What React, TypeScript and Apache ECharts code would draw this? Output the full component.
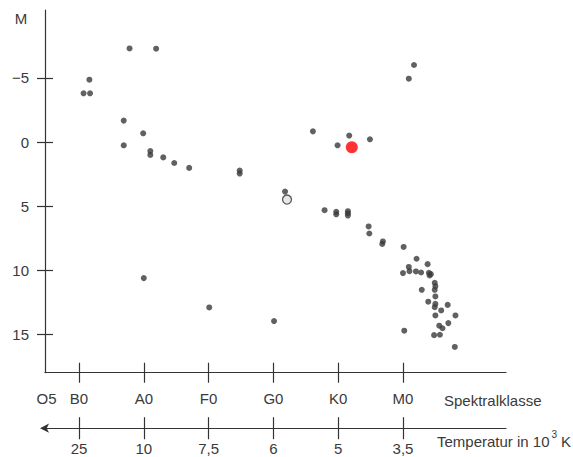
import React, { useEffect, useRef } from 'react';
import * as echarts from 'echarts';

const CLASS_POS = [-0.5, 0, 1, 2, 3, 4, 5];
const CLASS_LABELS = ['O5', 'B0', 'A0', 'F0', 'G0', 'K0', 'M0'];
const TICK_POS = [0, 1, 2, 3, 4, 5];
const TEMP_LABELS = ['25', '10', '7,5', '6', '5', '3,5'];
const M_TICKS = [-5, 0, 5, 10, 15];

// spectral class position (B0 = 0, A0 = 1, ...), absolute magnitude M
const starClass = [
  0.78, 1.19, 0.16, 0.07, 0.17, 0.69, 0.99, 0.69, 1.10, 1.10, 1.30, 1.47, 1.70,
  2.48, 2.48, 3.61, 4.17, 4.49, 3.99, 3.18, 3.79, 3.97, 3.97, 4.15, 4.15, 4.15,
  4.47, 4.48, 4.69, 4.68, 5.01, 5.21, 5.38, 5.09, 5.10, 5.00, 5.20, 5.28, 5.40,
  5.43, 5.41, 5.49, 5.50, 5.49, 5.29, 5.50, 5.39, 5.50, 5.49, 5.59, 5.69, 5.50,
  5.81, 5.56, 5.61, 5.70, 5.02, 5.48, 5.57, 5.80, 1.00, 2.01, 3.01, 5.17, 5.09,
];
const starMag = [
  -7.30, -7.28, -4.86, -3.80, -3.80, -1.67, -0.68, 0.26, 0.71, 1.01, 1.20, 1.64, 2.02,
  2.23, 2.46, -0.83, -0.50, -0.21, 0.26, 3.87, 5.32, 5.45, 5.64, 5.40, 5.56, 5.74,
  6.59, 7.14, 7.76, 7.96, 8.19, 9.11, 9.53, 9.75, 10.08, 10.23, 10.10, 10.18, 10.20,
  10.31, 10.41, 10.98, 11.25, 11.53, 11.53, 12.05, 12.46, 12.63, 12.89, 13.14, 12.71, 13.53,
  13.53, 14.33, 14.53, 14.13, 14.72, 15.07, 15.04, 15.99, 10.62, 12.91, 13.97, -6.01, -4.94,
];
const sunClass = [3.21];
const sunMag = [4.49];
const redClass = [4.21];
const redMag = [0.41];

const FONT = 'Liberation Sans, Arial, Helvetica, sans-serif';
const INK = '#333';
const TEXT = '#3a3a3a';

export default function App() {
  const ref = useRef<HTMLDivElement>(null);
  useEffect(() => {
    if (!ref.current) return;
    const chart = echarts.init(ref.current, null, { renderer: 'svg' });
    const X_MIN = -0.525;
    const X_MAX = 6.59;
    const Y_MIN = -10.3;
    const Y_MAX = 18;
    const lineStyle = { color: INK, width: 1.2 };
    const baseX = {
      type: 'value' as const,
      min: X_MIN,
      max: X_MAX,
      position: 'bottom' as const,
      splitLine: { show: false },
    };
    const baseY = {
      type: 'value' as const,
      min: Y_MIN,
      max: Y_MAX,
      inverse: true,
      position: 'left' as const,
      splitLine: { show: false },
    };
    const classLabel = (v: number) => {
      const i = CLASS_POS.findIndex((p) => Math.abs(p - v) < 1e-6);
      return i >= 0 ? CLASS_LABELS[i] : '';
    };
    const tempLabel = (v: number) => {
      const i = TICK_POS.findIndex((p) => Math.abs(p - v) < 1e-6);
      return i >= 0 ? TEMP_LABELS[i] : '';
    };
    const option: any = {
      animation: false,
      backgroundColor: '#fff',
      textStyle: { fontFamily: FONT },
      grid: { left: 45, right: 67, top: 10, bottom: 84.3, outerBoundsMode: 'none', containLabel: false },
      xAxis: [
        {
          ...baseX,
          axisLine: { show: true, onZero: false, lineStyle },
          axisTick: { show: true, inside: false, length: 10, customValues: TICK_POS, lineStyle },
          axisLabel: {
            show: true,
            customValues: CLASS_POS,
            formatter: classLabel,
            margin: 18,
            fontSize: 15,
            color: TEXT,
            fontFamily: FONT,
          },
        },
        {
          ...baseX,
          axisLine: { show: false, onZero: false },
          axisTick: { show: true, inside: true, length: 10, customValues: TICK_POS, lineStyle },
          axisLabel: { show: false },
        },
        {
          ...baseX,
          offset: 55.5,
          axisLine: {
            show: true,
            onZero: false,
            lineStyle,
            symbol: ['arrow', 'none'],
            symbolSize: [7, 9],
            symbolOffset: [-5, 0],
          },
          axisTick: { show: true, inside: false, length: 11, customValues: TICK_POS, lineStyle },
          axisLabel: {
            show: true,
            customValues: TICK_POS,
            formatter: tempLabel,
            margin: 13,
            fontSize: 15,
            color: TEXT,
            fontFamily: FONT,
          },
        },
        {
          ...baseX,
          offset: 55.5,
          axisLine: { show: false, onZero: false },
          axisTick: { show: true, inside: true, length: 11, customValues: TICK_POS, lineStyle },
          axisLabel: { show: false },
        },
      ],
      yAxis: [
        {
          ...baseY,
          axisLine: { show: true, onZero: false, lineStyle },
          axisTick: { show: true, inside: false, length: 8, customValues: M_TICKS, lineStyle },
          axisLabel: {
            show: true,
            customValues: M_TICKS,
            formatter: (v: number) => (v < 0 ? '\u2212' + Math.abs(v) : String(v)),
            margin: 16,
            fontSize: 15,
            color: TEXT,
            fontFamily: FONT,
          },
        },
        {
          ...baseY,
          axisLine: { show: false, onZero: false },
          axisTick: { show: true, inside: true, length: 8, customValues: M_TICKS, lineStyle },
          axisLabel: { show: false },
        },
      ],
      graphic: [
        {
          type: 'text',
          x: 21,
          y: 18,
          style: { text: 'M', fontSize: 15, fill: TEXT, fontFamily: FONT, align: 'center', verticalAlign: 'middle' },
        },
        {
          type: 'text',
          x: 444,
          y: 400,
          style: { text: 'Spektralklasse', fontSize: 15, fill: TEXT, fontFamily: FONT, align: 'left', verticalAlign: 'middle' },
        },
        {
          type: 'text',
          x: 437,
          y: 441,
          style: { text: 'Temperatur in 10', fontSize: 15, fill: TEXT, fontFamily: FONT, align: 'left', verticalAlign: 'middle' },
        },
        {
          type: 'text',
          x: 551.5,
          y: 434,
          style: { text: '3', fontSize: 10, fill: TEXT, fontFamily: FONT, align: 'left', verticalAlign: 'middle' },
        },
        {
          type: 'text',
          x: 561,
          y: 441,
          style: { text: 'K', fontSize: 15, fill: TEXT, fontFamily: FONT, align: 'left', verticalAlign: 'middle' },
        },
      ],
      series: [
        {
          type: 'scatter',
          xAxisIndex: 0,
          yAxisIndex: 0,
          symbolSize: 6,
          itemStyle: { color: '#3a3a3a' },
          data: starClass.map((c, i) => [c, starMag[i]]),
          silent: true,
        },
        {
          type: 'scatter',
          xAxisIndex: 0,
          yAxisIndex: 0,
          symbolSize: 9,
          itemStyle: { color: '#e2e2e2', borderColor: '#333', borderWidth: 1.3 },
          data: sunClass.map((c, i) => [c, sunMag[i]]),
          silent: true,
        },
        {
          type: 'scatter',
          xAxisIndex: 0,
          yAxisIndex: 0,
          symbolSize: 12,
          itemStyle: { color: '#ff0000' },
          data: redClass.map((c, i) => [c, redMag[i]]),
          silent: true,
        },
      ],
    };
    chart.setOption(option);
    return () => chart.dispose();
  }, []);
  return (
    <div
      ref={ref}
      style={{ position: 'absolute', left: 0, top: 0, width: 573, height: 457, background: '#fff' }}
    />
  );
}
